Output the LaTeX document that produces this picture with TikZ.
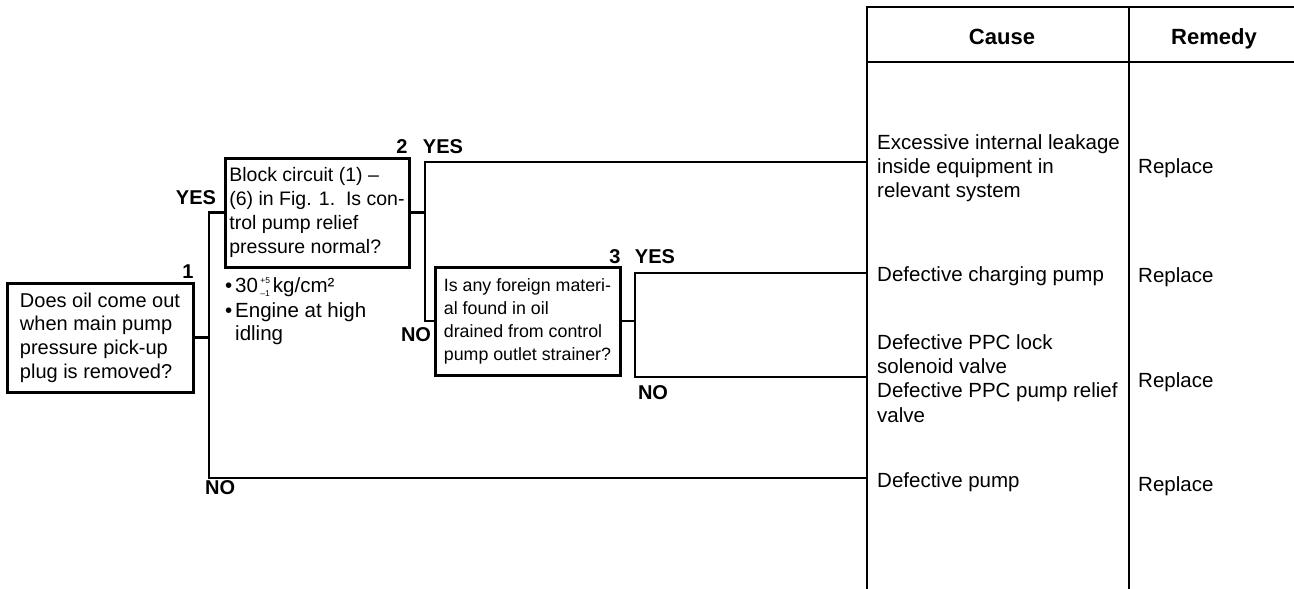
\documentclass[tikz,border=0pt]{standalone}
\usepackage{fontspec}
\setmainfont{Liberation Sans}
\begin{document}
\begin{tikzpicture}[x=1pt,y=-1pt,
  qbox/.style={draw,line width=3pt,align=left,inner sep=0pt},
  conn/.style={line width=2.5pt},
  tbl/.style={line width=2.6pt},
  lbl/.style={font=\fontsize{20}{22}\selectfont\bfseries,inner sep=0pt},
  hdr/.style={font=\fontsize{22}{26}\selectfont\bfseries,inner sep=0pt},
  ctext/.style={font=\fontsize{20.5}{24.3}\selectfont,align=left,inner sep=0pt,anchor=west},
  rtext/.style={font=\fontsize{20.5}{24}\selectfont,inner sep=0pt,anchor=west},
  notet/.style={font=\fontsize{20.5}{23.5}\selectfont,inner sep=0pt,anchor=base west},
  supt/.style={font=\fontsize{8.5}{8.5}\selectfont,inner sep=0pt,anchor=base west}]
\useasboundingbox (0,0) rectangle (1294,589);

% question boxes
\node[qbox,minimum width=186pt,minimum height=109pt,font=\fontsize{20}{23.6}\selectfont] (b1) at (100,337.5)
  {Does oil come out\\when main pump\\pressure pick-up\\plug is removed?};
\node[qbox,minimum width=184pt,minimum height=109pt,font=\fontsize{19.5}{24}\selectfont] (b2) at (317,212.5)
  {Block circuit (1) –\\(6) in Fig. 1.\ \ Is con-\\trol pump relief\\pressure normal?};
\node[qbox,minimum width=185pt,minimum height=108pt,font=\fontsize{17.8}{23}\selectfont] (b3) at (527.5,321)
  {Is any foreign materi-\\al found in oil\\drained from control\\pump outlet strainer?};

% notes under box 2
\node[notet] (nt1) at (225,292) {\makebox[10pt][l]{•}30};
\node[supt] (sp) at ([xshift=2pt,yshift=8.5pt]nt1.base east) {+5};
\node[supt] (sb) at ([xshift=2pt,yshift=-4pt]nt1.base east) {–1};
\node[notet] (nt2) at ([xshift=2.5pt]sp.base east |- nt1.base) {kg/cm²};
\node[notet] (nt3) at (225,317) {\makebox[10pt][l]{•}Engine at high};
\node[notet] (nt4) at (235,340) {idling};

% table
\coordinate (tl) at (867,7);
\coordinate (tr) at (1294,7);
\coordinate (bl) at (867,589);
\coordinate (hl) at (867,62);
\coordinate (hr) at (1294,62);
\coordinate (dt) at (1129,7);
\coordinate (db) at (1129,589);
\draw[tbl] (bl) -- (tl) -- (tr);
\draw[tbl] (hl) -- (hr);
\draw[tbl] (dt) -- (db);
\node[hdr] (cause) at (1002,37) {Cause};
\node[hdr] (remedy) at (1214,39) {Remedy};

% causes
\node[ctext] (c1) at (877,168) {Excessive internal leakage\\inside equipment in\\relevant system};
\node[ctext] (c2) at (877,276) {Defective charging pump};
\node[ctext] (c3) at (877,378.5) {Defective PPC lock\\solenoid valve\\Defective PPC pump relief\\valve};
\node[ctext] (c4) at (877,482) {Defective pump};
\node[rtext] (m1) at (1138,168) {Replace};
\node[rtext] (m2) at (1138,277) {Replace};
\node[rtext] (m3) at (1138,382) {Replace};
\node[rtext] (m4) at (1138,486) {Replace};

% connector points at table edge
\coordinate (r1) at (867,162);
\coordinate (r2) at (867,273);
\coordinate (r3) at (867,377);
\coordinate (r4) at (867,478);

% junctions
\coordinate (t1top) at (209,212.5);
\coordinate (t1bot) at (209,478);
\coordinate (t2top) at (425,162);
\coordinate (t3top) at (635,273);
\coordinate (t3bot) at (635,377);

% connectors from box 1
\draw[conn] (b1.east) -- (b1.east -| t1top);
\draw[conn] (b2.west) -- (t1top) -- (t1bot) -- (r4);
% connectors from box 2
\draw[conn] (b2.east) -- (b2.east -| t2top);
\draw[conn] (r1) -- (t2top) -- (t2top |- b3.west) -- (b3.west);
% connectors from box 3
\draw[conn] (b3.east) -- (b3.east -| t3top);
\draw[conn] (r2) -- (t3top) -- (t3bot) -- (r3);

% labels
\node[lbl] (n1) at (188,272) {1};
\node[lbl] (y1) at (196,198) {YES};
\node[lbl,anchor=west] (no1) at (205,488) {NO};
\node[lbl] (n2) at (402,147) {2};
\node[lbl] (y2) at (443,147) {YES};
\node[lbl] (no2) at (416,335) {NO};
\node[lbl] (n3) at (615,257) {3};
\node[lbl] (y3) at (655,257) {YES};
\node[lbl] (no3) at (653,393) {NO};
\end{tikzpicture}
\end{document}
